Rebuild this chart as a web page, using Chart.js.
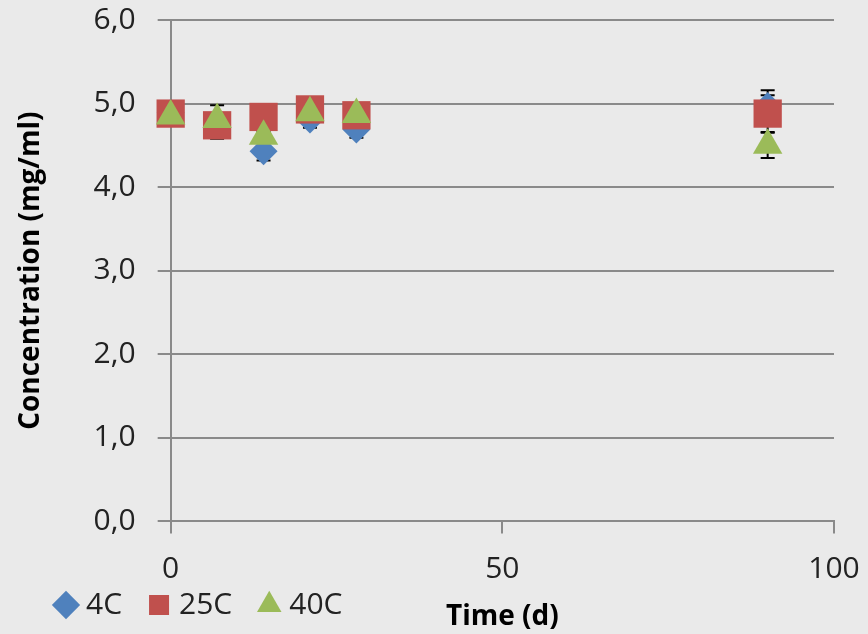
<!DOCTYPE html>
<html>
<head>
<meta charset="utf-8">
<script src="https://cdn.jsdelivr.net/npm/chart.js@4"></script>
<style>
  html, body { margin: 0; padding: 0; background: #eaeaea; }
  #wrap { width: 868px; height: 634px; }
</style>
</head>
<body>
<div id="wrap"><canvas id="chart"></canvas></div>
<script>
// time points (days)
const days = [0, 7, 14, 21, 28, 90];
// concentration (mg/ml) per storage temperature
const conc4C = [4.89, 4.78, 4.43, 4.81, 4.69, 4.97];
const conc25C = [4.88, 4.74, 4.84, 4.93, 4.86, 4.88];
const conc40C = [4.85, 4.81, 4.61, 4.89, 4.87, 4.50];
// error bar half-widths
const err4C = [0.05, 0.2, 0.11, 0.1, 0.1, 0.19];
const err25C = [0.03, 0.03, 0.03, 0.03, 0.03, 0.22];
const err40C = [0.02, 0.02, 0.05, 0.02, 0.02, 0.15];

const seriesNames = ['4C', '25C', '40C'];
const xTicks = [0, 50, 100];
const yTicks = [0, 1, 2, 3, 4, 5, 6];

const FONT = "'Open Sans', sans-serif";
const TEXT = '#222';
const LEGEND_PAD = 32;

function points(vals) {
  return days.map((d, i) => ({ x: d, y: vals[i] }));
}

// small black error bars, drawn under all the markers
const errorBars = {
  id: 'errorBars',
  beforeDatasetsDraw(chart) {
    const { ctx, scales: { x, y } } = chart;
    ctx.save();
    ctx.strokeStyle = '#000';
    ctx.lineWidth = 2;
    chart.data.datasets.forEach(ds => {
      ds.data.forEach((p, i) => {
        const px = x.getPixelForValue(p.x);
        const top = y.getPixelForValue(p.y + ds.errors[i]);
        const bot = y.getPixelForValue(p.y - ds.errors[i]);
        ctx.beginPath();
        ctx.moveTo(px, top); ctx.lineTo(px, bot);
        ctx.moveTo(px - 7, top); ctx.lineTo(px + 7, top);
        ctx.moveTo(px - 7, bot); ctx.lineTo(px + 7, bot);
        ctx.stroke();
      });
    });
    ctx.restore();
  }
};

// legend sits on the same row as the x axis title
const legendRow = {
  id: 'legendRow',
  afterLayout(chart) {
    const l = chart.legend;
    const h = l.height;
    l.top = 608 - LEGEND_PAD - 18;
    l.bottom = l.top + h;
    l.left = 29;
  }
};

new Chart(document.getElementById('chart'), {
  type: 'scatter',
  data: {
    datasets: [
      {
        label: seriesNames[0], data: points(conc4C), errors: err4C, order: 3, clip: false,
        pointStyle: 'rectRot', pointRadius: 14, pointHoverRadius: 14,
        backgroundColor: '#4f81bd', borderColor: '#4f81bd', borderWidth: 0
      },
      {
        label: seriesNames[1], data: points(conc25C), errors: err25C, order: 2, clip: false,
        pointStyle: 'rect', pointRadius: 20, pointHoverRadius: 20,
        backgroundColor: '#c0504d', borderColor: '#c0504d', borderWidth: 0
      },
      {
        label: seriesNames[2], data: points(conc40C), errors: err40C, order: 1, clip: false,
        pointStyle: 'triangle', pointRadius: 17, pointHoverRadius: 17,
        backgroundColor: '#9bbb59', borderColor: '#9bbb59', borderWidth: 0
      }
    ]
  },
  options: {
    responsive: true,
    maintainAspectRatio: false,
    animation: false,
    layout: { padding: { top: 20, right: 34, left: 0, bottom: -74 } },
    plugins: {
      tooltip: { enabled: false },
      legend: {
        position: 'bottom',
        align: 'start',
        labels: {
          usePointStyle: true,
          boxWidth: 10,
          boxHeight: 20,
          padding: LEGEND_PAD,
          color: TEXT,
          font: { family: FONT, size: 30 },
          sort: (a, b) => a.datasetIndex - b.datasetIndex
        }
      }
    },
    scales: {
      x: {
        type: 'linear',
        min: 0, max: 100,
        afterBuildTicks: s => { s.ticks = xTicks.map(v => ({ value: v })); },
        afterFit: s => { s.paddingRight = 0; s.paddingLeft = 0; },
        grid: { drawOnChartArea: false, drawTicks: true, tickLength: 12, color: '#8a8a8a', lineWidth: 2 },
        border: { color: '#8a8a8a', width: 2 },
        ticks: { padding: 18, color: TEXT, font: { family: FONT, size: 30 }, maxRotation: 0 },
        title: {
          display: true, text: 'Time (d)', color: '#000',
          font: { family: FONT, size: 28, weight: 'bold' },
          padding: { top: -5, bottom: 2 }
        }
      },
      y: {
        min: 0, max: 6,
        afterBuildTicks: s => { s.ticks = yTicks.map(v => ({ value: v })); },
        afterFit: s => { s.paddingTop = 0; },
        grid: { color: '#8a8a8a', lineWidth: 2, tickLength: 13 },
        border: { color: '#8a8a8a', width: 2 },
        ticks: {
          padding: 22, color: TEXT, font: { family: FONT, size: 30 },
          callback: v => v.toFixed(1).replace('.', ',')
        },
        title: {
          display: true, text: 'Concentration (mg/ml)', color: '#000',
          font: { family: FONT, size: 28, weight: 'bold' },
          padding: { top: 14, bottom: 24 }
        }
      }
    }
  },
  plugins: [errorBars, legendRow]
});
</script>
</body>
</html>
